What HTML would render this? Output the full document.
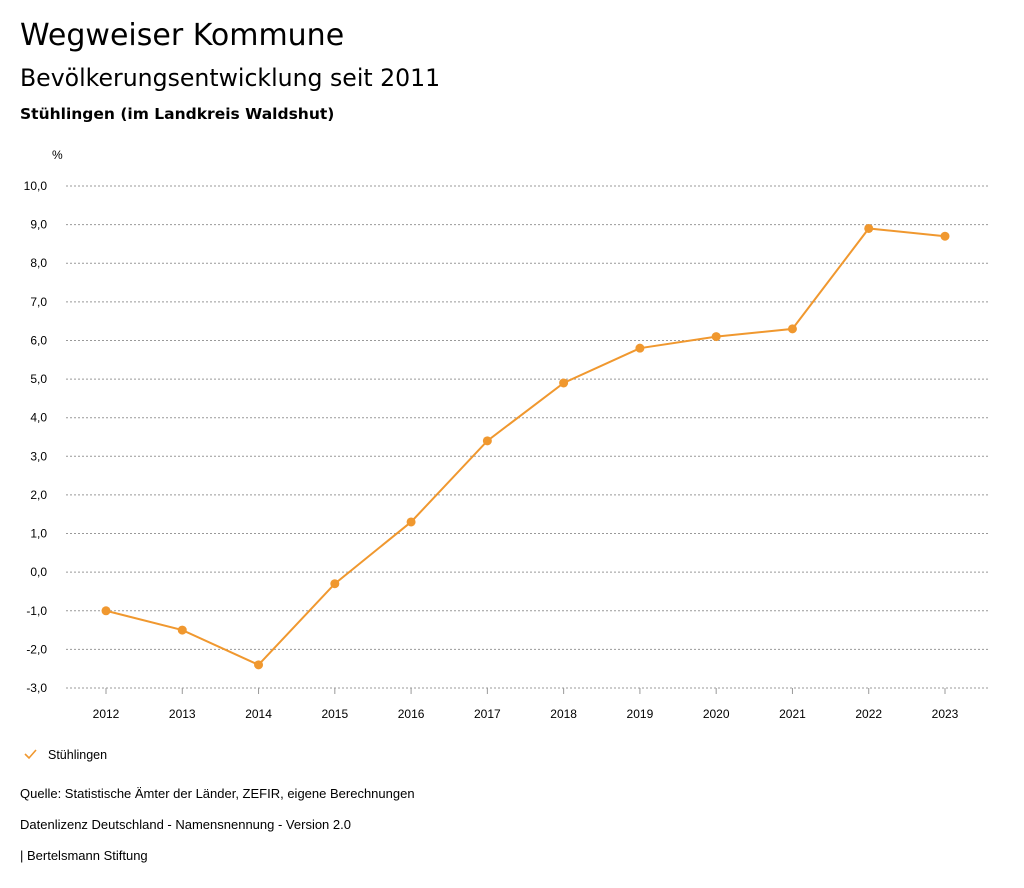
<!DOCTYPE html>
<html><head><meta charset="utf-8">
<style>
body{margin:0;width:1024px;height:888px;background:#fff;font-family:"Liberation Sans",sans-serif;color:#000;overflow:hidden}
.t1{position:absolute;left:20px;top:18px;font-size:30px;font-family:"DejaVu Sans",sans-serif}
.t2{position:absolute;left:20px;top:64px;font-size:23.6px;font-family:"DejaVu Sans",sans-serif}
.t3{position:absolute;left:20px;top:105px;font-size:15.5px;font-weight:bold;font-family:"DejaVu Sans",sans-serif}
.f{position:absolute;left:20px;font-size:13px}
svg{position:absolute;left:0;top:0}
</style></head><body>
<div class="t1">Wegweiser Kommune</div>
<div class="t2">Bevölkerungsentwicklung seit 2011</div>
<div class="t3">Stühlingen (im Landkreis Waldshut)</div>
<svg id="c" width="1024" height="888"></svg>
<div class="f" style="top:786px">Quelle: Statistische Ämter der Länder, ZEFIR, eigene Berechnungen</div>
<div class="f" style="top:817px">Datenlizenz Deutschland - Namensnennung - Version 2.0</div>
<div class="f" style="top:848px">| Bertelsmann Stiftung</div>
<script>
const years=["2012","2013","2014","2015","2016","2017","2018","2019","2020","2021","2022","2023"];
const values=[-1.0,-1.5,-2.4,-0.3,1.3,3.4,4.9,5.8,6.1,6.3,8.9,8.7];
const yTicks=[10,9,8,7,6,5,4,3,2,1,0,-1,-2,-3];
const ns="http://www.w3.org/2000/svg",svg=document.getElementById('c');
const X=i=>106+i*(945-106)/(years.length-1);
const Y=v=>688-(v+3)*(688-186)/13;
function mk(t,a,txt){const e=document.createElementNS(ns,t);for(const k in a)e.setAttribute(k,a[k]);if(txt!=null)e.textContent=txt;svg.appendChild(e);return e;}
let e=mk('text',{x:52,y:159,'font-size':12},'%');


yTicks.forEach(v=>{
 const g=mk('line',{x1:66,x2:990,y1:Y(v),y2:Y(v),stroke:'#999','stroke-dasharray':'2,2','stroke-width':1});
 
 
 const t=mk('text',{x:47,y:Y(v)+4,'font-size':12,'text-anchor':'end'},v.toFixed(1).replace('.',','));
 
 
});
years.forEach((y,i)=>{
 const k=mk('line',{x1:X(i),x2:X(i),y1:688,y2:694,stroke:'#999'});
 
 
 const t=mk('text',{x:X(i),y:718,'font-size':12,'text-anchor':'middle'},y);
 
 
});
const p=mk('polyline',{points:values.map((v,i)=>X(i)+','+Y(v)).join(' '),fill:'none',stroke:'#f0982f','stroke-width':2});


values.forEach((v,i)=>{
 const c=mk('circle',{cx:X(i),cy:Y(v),r:4.5,fill:'#f0982f'});
 
 
});
const l=mk('polyline',{points:'25,754 29,758 36,750',fill:'none',stroke:'#f0982f','stroke-width':1.6});


const lt=mk('text',{x:48,y:759,'font-size':12.5},'Stühlingen');


</script>
</body></html>
